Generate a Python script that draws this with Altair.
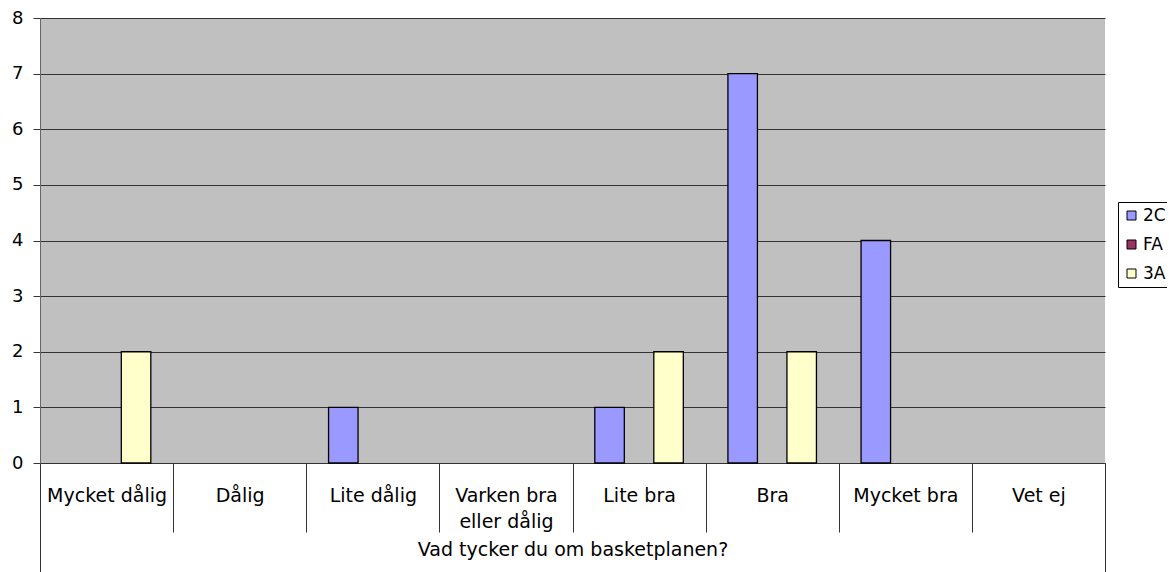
import altair as alt
import pandas as pd

categories = ["Mycket dålig", "Dålig", "Lite dålig", "Varken bra eller dålig",
              "Lite bra", "Bra", "Mycket bra", "Vet ej"]
series = ["2C", "FA", "3A"]
values_2C = [0, 0, 1, 0, 1, 7, 4, 0]
values_FA = [0, 0, 0, 0, 0, 0, 0, 0]
values_3A = [2, 0, 0, 0, 2, 2, 0, 0]
colors = ["#9999FF", "#993366", "#FFFFCC"]
group_label = ["Vad tycker du om basketplanen?"]
y_ticks = [0, 1, 2, 3, 4, 5, 6, 7, 8]

rows = []
for s, vals in zip(series, [values_2C, values_FA, values_3A]):
    for c, v in zip(categories, vals):
        rows.append({"cat": c, "series": s, "value": v})
df = pd.DataFrame(rows)
gdf = pd.DataFrame({"group": group_label})

FONT = "DejaVu Sans"
LINE = "#333333"

bars = alt.Chart(df).transform_filter("datum.value > 0").mark_bar(
    stroke="black", strokeWidth=1.3
).encode(
    x=alt.X("cat:N", sort=categories,
            scale=alt.Scale(domain=categories, paddingInner=0, paddingOuter=0),
            axis=alt.Axis(title=None, labelAngle=0, tickBand="extent", tickSize=69,
                          tickColor=LINE, domainColor=LINE, labelPadding=-46,
                          labelBaseline="top", labelFontSize=19, labelLineHeight=26,
                          labelFont=FONT, labelColor="black", labelOverlap=False,
                          labelLimit=300, grid=False,
                          labelExpr="datum.label == 'Varken bra eller dålig' ? ['Varken bra', 'eller dålig'] : datum.label")),
    xOffset=alt.XOffset("series:N", sort=series,
                        scale=alt.Scale(domain=series, paddingInner=0, paddingOuter=0.756)),
    y=alt.Y("value:Q", scale=alt.Scale(domain=[0, 8], nice=False),
            axis=alt.Axis(title=None, values=y_ticks, grid=True, gridColor=LINE,
                          gridOpacity=1, tickSize=7, tickColor=LINE, domainColor="#666666",
                          labelPadding=10, labelFontSize=18, labelFont=FONT,
                          labelColor="black")),
    color=alt.Color("series:N", sort=series,
                    scale=alt.Scale(domain=series, range=colors),
                    legend=alt.Legend(title=None, orient="none", legendX=1078, legendY=184,
                                      symbolType="square", symbolSize=81,
                                      symbolStrokeColor="black", symbolStrokeWidth=1,
                                      labelFontSize=17, labelFont=FONT, labelColor="black",
                                      strokeColor="black", fillColor="white",
                                      padding=5, rowPadding=11, labelOffset=3)),
)

outer = alt.Chart(gdf).mark_point(opacity=0).encode(
    x=alt.X("group:N", scale=alt.Scale(paddingInner=0, paddingOuter=0),
            axis=alt.Axis(orient="bottom", title=None, domain=False, tickBand="extent",
                          tickSize=109, tickColor=LINE, labelPadding=-17,
                          labelBaseline="alphabetic", labelFontSize=19, labelFont=FONT,
                          labelColor="black", labelLimit=600, grid=False, labelAngle=0)),
)

chart = alt.layer(bars, outer).resolve_scale(x="independent").properties(
    width=1065, height=445,
    background="white",
    autosize=alt.AutoSizeParams(type="none"),
    padding={"left": 32, "top": 10, "right": 62, "bottom": 109},
).configure_view(fill="#C0C0C0", stroke=None)

chart.save("out.html", embed_options={"renderer": "svg", "actions": False})
